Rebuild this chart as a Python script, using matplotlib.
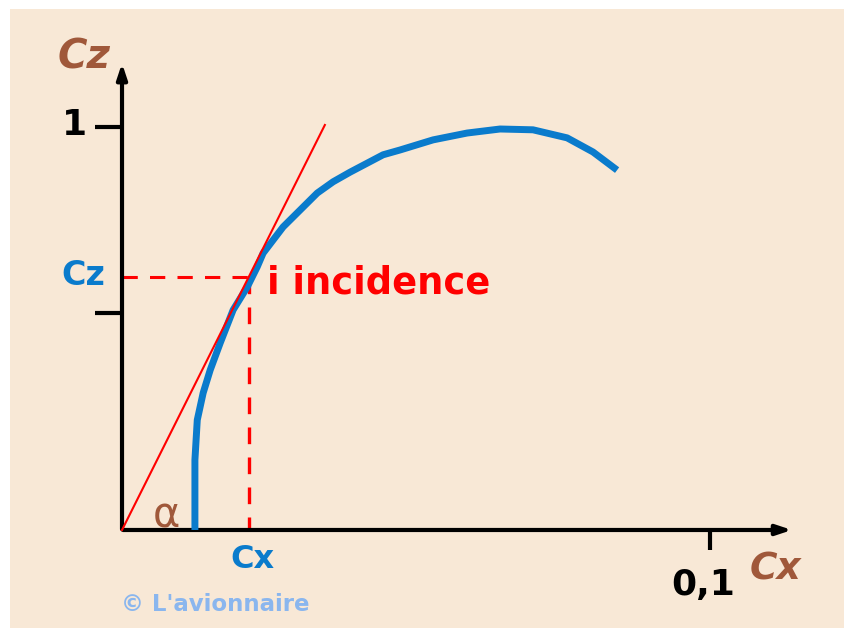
import matplotlib.pyplot as plt
from matplotlib.patches import Rectangle

# polar curve Cz = f(Cx)
cx = [0.0124, 0.0124, 0.0128, 0.0138, 0.0150, 0.0167, 0.0189, 0.0213, 0.0230,
      0.0240, 0.0274, 0.0303, 0.0332, 0.0359, 0.0388, 0.0444, 0.0473, 0.0529,
      0.0587, 0.0643, 0.0699, 0.0757, 0.0801, 0.0842]
cz = [0.0, 0.174, 0.273, 0.340, 0.397, 0.464, 0.546, 0.603, 0.653,
      0.687, 0.752, 0.794, 0.836, 0.864, 0.888, 0.931, 0.943, 0.968,
      0.985, 0.995, 0.993, 0.973, 0.938, 0.893]

tangent_end = (0.0345, 1.005)
point_cx, point_cz = 0.0216, 0.628
ytick_vals = [1.0, 0.538]
xtick_val = 0.1

beige = '#f8e8d6'
brown = '#a0583a'
blue = '#0a7bcc'
red = '#ff0000'

plt.rcParams['font.family'] = ['DejaVu Sans']

fig = plt.figure(figsize=(8.44, 6.28), dpi=100)
fig.patch.set_facecolor('white')
fig.patches.append(Rectangle((10 / 844, 0), 1, 619 / 628, transform=fig.transFigure,
                             facecolor=beige, edgecolor='none', zorder=-10))
ax = fig.add_axes([0, 0, 1, 1])
ax.set_zorder(1)
ax.set_facecolor('none')
ax.set_xlim(-0.02075, 0.12279)
ax.set_ylim(-0.2432, 1.3151)
ax.axis('off')

# axes with arrows
ax.annotate('', xy=(0, 1.165), xytext=(0, -0.005),
            arrowprops=dict(arrowstyle='-|>,head_length=0.9,head_width=0.3', color='black', lw=3))
ax.annotate('', xy=(0.1144, 0), xytext=(-0.0003, 0),
            arrowprops=dict(arrowstyle='-|>,head_length=0.9,head_width=0.3', color='black', lw=3))

for v in ytick_vals:
    ax.plot([-0.0046, 0], [v, v], color='black', lw=3, solid_capstyle='butt')
ax.plot([xtick_val, xtick_val], [0, -0.05], color='black', lw=3, solid_capstyle='butt')

# tangent and dashed guides
ax.plot([0, tangent_end[0]], [0, tangent_end[1]], color=red, lw=1.5, zorder=4)
ax.plot([0, point_cx], [point_cz, point_cz], color=red, lw=2.2, dashes=(5, 4))
ax.plot([point_cx, point_cx], [point_cz, 0], color=red, lw=2.4, dashes=(5, 4))

ax.plot(cx, cz, color=blue, lw=5, solid_capstyle='butt', solid_joinstyle='round', zorder=3)

# texts
ax.text(-0.00655, 1.146, 'Cz', color=brown, fontsize=29, fontweight='bold', style='italic',
        ha='center', va='baseline')
ax.text(-0.0080, 0.980, '1', color='black', fontsize=26, fontweight='bold',
        ha='center', va='baseline')
ax.text(-0.0066, 0.608, 'Cz', color=blue, fontsize=24, fontweight='bold',
        ha='center', va='baseline')
ax.text(0.0221, -0.0943, 'Cx', color=blue, fontsize=23, fontweight='bold',
        ha='center', va='baseline')
ax.text(0.0988, -0.161, '0,1', color='black', fontsize=26, fontweight='bold',
        ha='center', va='baseline')
ax.text(0.1111, -0.124, 'Cx', color=brown, fontsize=27, fontweight='bold', style='italic',
        ha='center', va='baseline')
ax.text(0.0246, 0.588, 'i incidence', color=red, fontsize=26.5, fontweight='bold',
        ha='left', va='baseline')
ax.text(0.0075, 0.0074, 'α', color=brown, fontsize=30, ha='center', va='baseline')
ax.text(-0.0002, -0.201, "© L'avionnaire", color='#8ab6ee', fontsize=16.5, fontweight='bold',
        ha='left', va='baseline')

fig.savefig('out.png', dpi=100)
